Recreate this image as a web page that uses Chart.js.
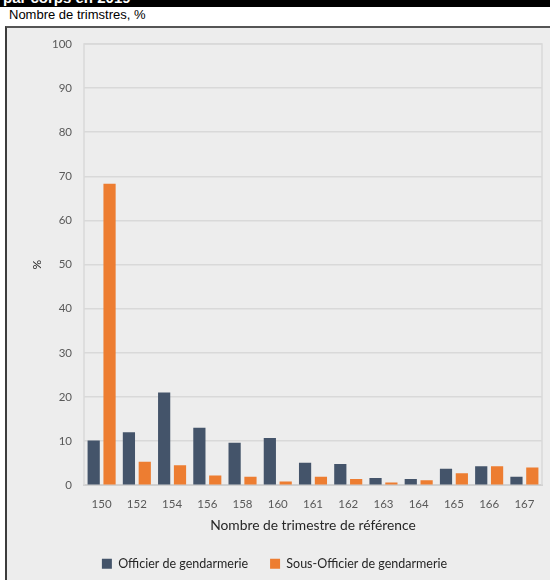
<!DOCTYPE html>
<html lang="fr">
<head>
<meta charset="utf-8">
<script src="https://cdn.jsdelivr.net/npm/chart.js@4.4.1/dist/chart.umd.min.js"></script>
<style>
  html, body { margin: 0; padding: 0; background: #ffffff; width: 550px; height: 580px; overflow: hidden; }
  #topbar { position: absolute; left: 0; top: 0; width: 550px; height: 7px; background: #000; overflow: hidden; }
  #topbar span { position: absolute; left: 3px; top: -11px; color: #fff; font: bold 15px "Liberation Sans", Arial, sans-serif; white-space: nowrap; }
  #subtitle { position: absolute; left: 9px; top: 7px; font: 13px "Liberation Sans", Arial, sans-serif; color: #000; }
  #box { position: absolute; left: 5px; top: 26px; width: 560px; height: 570px; border-left: 2px solid #3c3c3c; border-top: 2px solid #555; background: #ededed; }
  #wrap { position: absolute; left: 0; top: 0; width: 543px; height: 552px; }
</style>
</head>
<body>
<div id="topbar"><span>par corps en 2019</span></div>
<div id="subtitle">Nombre de trimstres, %</div>
<div id="box"><div id="wrap"><canvas id="c" width="543" height="552"></canvas></div></div>
<script>
// Nombre de trimestres de référence
const categories = ['150', '152', '154', '156', '158', '160', '161', '162', '163', '164', '165', '166', '167'];
// Part des pensionnés par nombre de trimestres, en %
const officier = [10.1, 12.0, 21.0, 13.0, 9.6, 10.7, 5.1, 4.8, 1.6, 1.4, 3.7, 4.3, 1.9];
const sousOfficier = [68.3, 5.3, 4.5, 2.2, 1.9, 0.8, 1.9, 1.4, 0.6, 1.1, 2.7, 4.3, 4.0];
const yTicks = [0, 10, 20, 30, 40, 50, 60, 70, 80, 90, 100];

const gridColor = '#d9d9d9';
const tickFont = { family: 'Lato, "Open Sans", sans-serif', size: 11.5 };

// Frame around the plot area (left, top and right edges)
const plotFrame = {
  id: 'plotFrame',
  beforeDatasetsDraw(chart) {
    const { ctx, chartArea: a } = chart;
    ctx.save();
    ctx.strokeStyle = gridColor;
    ctx.lineWidth = 1.5;
    ctx.beginPath();
    ctx.moveTo(a.left, a.bottom);
    ctx.lineTo(a.left, a.top);
    ctx.lineTo(a.right, a.top);
    ctx.lineTo(a.right, a.bottom);
    ctx.stroke();
    ctx.restore();
  }
};

new Chart(document.getElementById('c'), {
  type: 'bar',
  data: {
    labels: categories,
    datasets: [
      { label: 'Officier de gendarmerie', data: officier, backgroundColor: '#44546a',
        categoryPercentage: 0.9, barPercentage: 0.77 },
      { label: 'Sous-Officier de gendarmerie', data: sousOfficier, backgroundColor: '#ed7d31',
        categoryPercentage: 0.9, barPercentage: 0.77 }
    ]
  },
  options: {
    responsive: false,
    animation: false,
    layout: { padding: { left: 0, right: 8, top: 16, bottom: 0 } },
    scales: {
      x: {
        grid: { display: false, drawTicks: false },
        border: { color: '#d0d0d0', width: 2 },
        ticks: { color: '#595959', font: tickFont, padding: 12 },
        title: { display: true, text: 'Nombre de trimestre de référence', color: '#262626',
          font: { family: 'Lato, "Open Sans", sans-serif', size: 13.8 }, padding: { top: -6, bottom: 2 } }
      },
      y: {
        min: 0, max: 100,
        afterBuildTicks(scale) { scale.ticks = yTicks.map(v => ({ value: v })); },
        afterFit(scale) {
          scale.width = 77;
          scale.paddingTop = 7;
          scale.paddingBottom = 7;
        },
        grid: { color: gridColor, lineWidth: 1.5, drawTicks: false },
        border: { display: false },
        ticks: { color: '#595959', font: tickFont, padding: 12 },
        title: { display: true, text: '%', color: '#262626',
          font: { family: 'Lato, "Open Sans", sans-serif', size: 12 }, padding: { top: 23, bottom: 0 } }
      }
    },
    plugins: {
      legend: {
        position: 'bottom',
        labels: { boxWidth: 10, boxHeight: 10, padding: 22, color: '#262626',
          font: { family: 'Lato, "Open Sans", sans-serif', size: 12.5 } }
      },
      tooltip: { enabled: false }
    }
  },
  plugins: [plotFrame]
});
</script>
</body>
</html>
